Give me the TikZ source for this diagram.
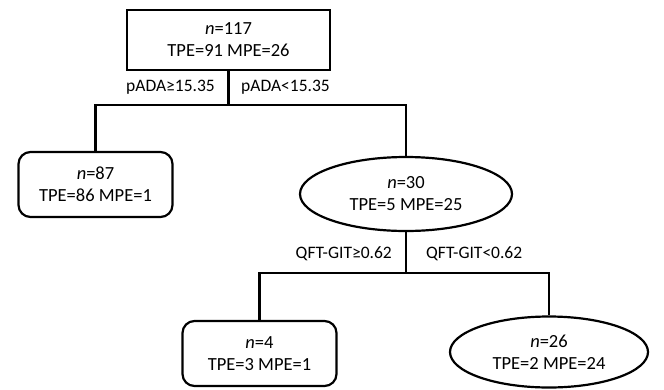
\documentclass[tikz,border=0pt]{standalone}
\usepackage{fontspec}
\setmainfont{Carlito}
\usetikzlibrary{shapes.geometric}

\begin{document}
\begin{tikzpicture}[x=1pt,y=-1pt,
    split/.style={draw,line width=2.2pt,align=center,inner sep=0pt,
                  font=\fontsize{18.5}{22}\selectfont},
    box/.style={split,minimum width=203pt,minimum height=60pt},
    leaf/.style={split,rounded corners=12pt,minimum width=154pt,minimum height=65pt},
    oval/.style={split,ellipse,minimum width=212pt,minimum height=74pt},
    cond/.style={inner sep=0pt,font=\fontsize{17.5}{21}\selectfont},
    edge/.style={line width=2.2pt}]
    \useasboundingbox (0,0) rectangle (664,389);
    % tree nodes
    \node[box] (root) at (228.5,40) {\textit{n}=117\\TPE=91 MPE=26};
    \node[leaf] (n87) at (95.5,184.5) {\textit{n}=87\\TPE=86 MPE=1};
    \node[oval] (n30) at (406,194) {\textit{n}=30\\TPE=5 MPE=25};
    \node[leaf] (n4) at (259.5,353.5) {\textit{n}=4\\TPE=3 MPE=1};
    \node[oval,minimum width=198pt,minimum height=71pt] (n26) at (549,352) {\textit{n}=26\\TPE=2 MPE=24};
    % split points
    \coordinate (j1) at (228.5,105);
    \coordinate (j2) at (406,273);
    % split rules
    \node[cond,anchor=east] (c1a) at (215,87) {pADA≥15.35};
    \node[cond,anchor=west] (c1b) at (241,87) {pADA<15.35};
    \node[cond,anchor=east] (c2a) at (392,254) {QFT-GIT≥0.62};
    \node[cond,anchor=west] (c2b) at (426,254) {QFT-GIT<0.62};
    % branches
    \draw[edge] (root.south) -- (j1);
    \draw[edge] (j1) -| (n87.north);
    \draw[edge] (j1) -| (n30.north);
    \draw[edge] (n30.south) -- (j2);
    \draw[edge] (j2) -| (n4.north);
    \draw[edge] (j2) -| (n26.north);
  \end{tikzpicture}
\end{document}
